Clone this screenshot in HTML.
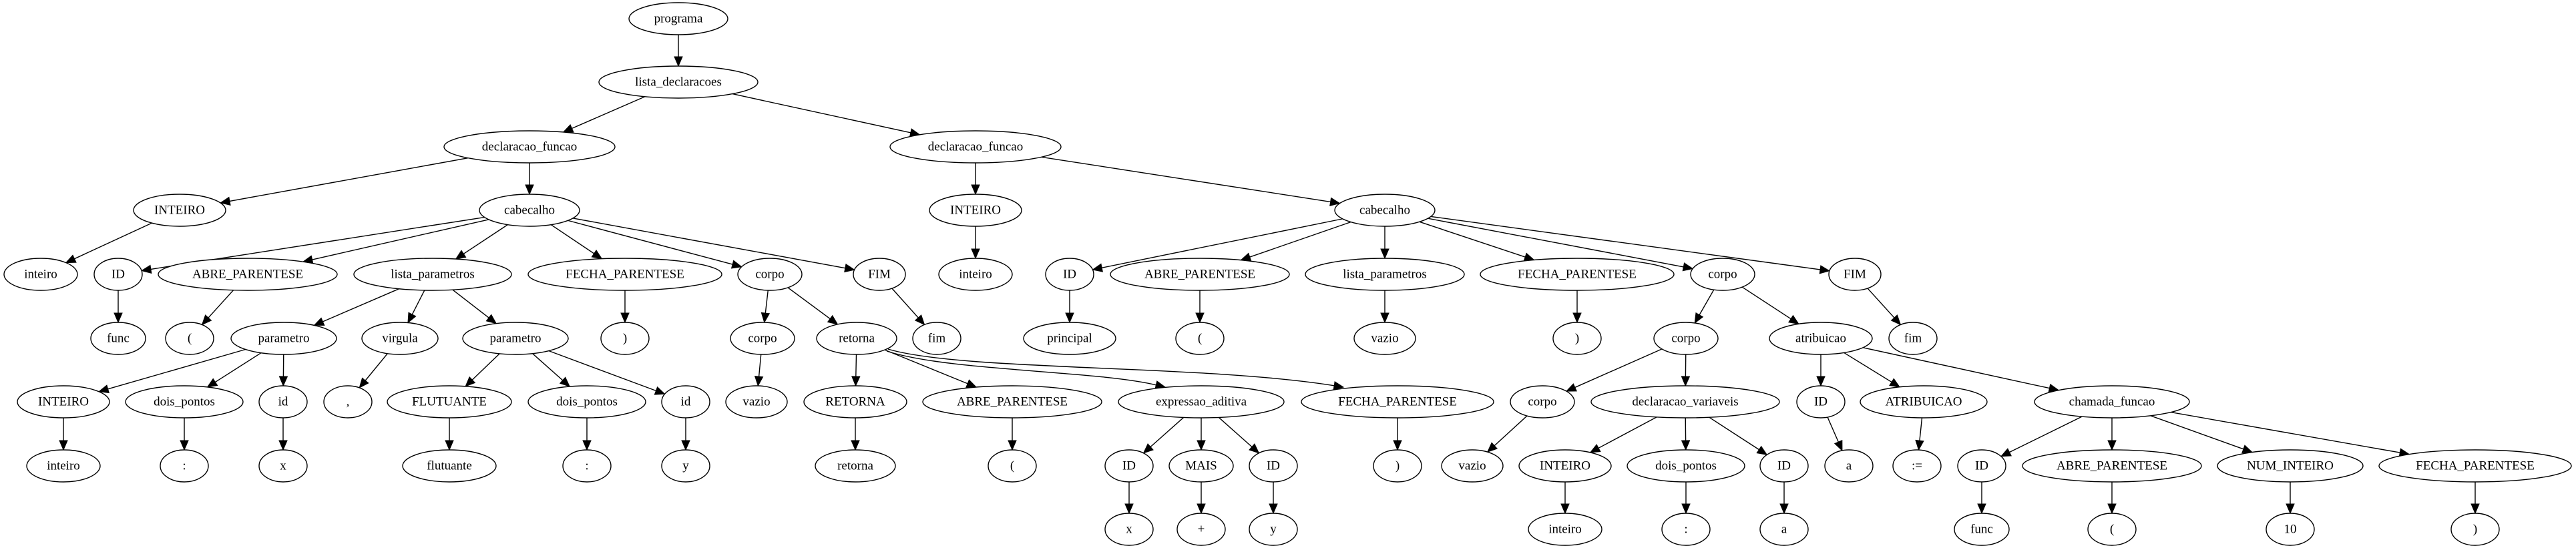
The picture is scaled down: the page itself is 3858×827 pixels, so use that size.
<!DOCTYPE html>
<html><head><meta charset="utf-8"><style>
html,body{margin:0;padding:0;background:#fff;}
svg{display:block;}
text{font-family:"Liberation Serif",serif;font-size:19px;text-anchor:middle;dominant-baseline:central;fill:#000;}
ellipse{fill:#fff;stroke:#000;stroke-width:1.4;}
</style></head><body>
<svg id="s" width="3858" height="827" viewBox="0 0 3858 827" xmlns="http://www.w3.org/2000/svg">
<g id="edges"></g>
<g id="nodes">
<g id="n0"><ellipse cx="1016" cy="28" rx="74" ry="24"/><text x="1016" y="28">programa</text></g>
<g id="n1"><ellipse cx="1016" cy="123" rx="119" ry="24"/><text x="1016" y="123">lista_declaracoes</text></g>
<g id="n2"><ellipse cx="793" cy="220" rx="128" ry="24"/><text x="793" y="220">declaracao_funcao</text></g>
<g id="n3"><ellipse cx="1461" cy="220" rx="128" ry="24"/><text x="1461" y="220">declaracao_funcao</text></g>
<g id="n4"><ellipse cx="269" cy="315" rx="69" ry="24"/><text x="269" y="315">INTEIRO</text></g>
<g id="n5"><ellipse cx="793" cy="315" rx="75" ry="24"/><text x="793" y="315">cabecalho</text></g>
<g id="n6"><ellipse cx="1461" cy="315" rx="69" ry="24"/><text x="1461" y="315">INTEIRO</text></g>
<g id="n7"><ellipse cx="2074" cy="315" rx="75" ry="24"/><text x="2074" y="315">cabecalho</text></g>
<g id="n8"><ellipse cx="61" cy="411" rx="55" ry="24"/><text x="61" y="411">inteiro</text></g>
<g id="n9"><ellipse cx="177" cy="411" rx="36" ry="24"/><text x="177" y="411">ID</text></g>
<g id="n10"><ellipse cx="371" cy="411" rx="134" ry="24"/><text x="371" y="411">ABRE_PARENTESE</text></g>
<g id="n11"><ellipse cx="648" cy="411" rx="118" ry="24"/><text x="648" y="411">lista_parametros</text></g>
<g id="n12"><ellipse cx="936" cy="411" rx="145" ry="24"/><text x="936" y="411">FECHA_PARENTESE</text></g>
<g id="n13"><ellipse cx="1153" cy="411" rx="48" ry="24"/><text x="1153" y="411">corpo</text></g>
<g id="n14"><ellipse cx="1317" cy="411" rx="39" ry="24"/><text x="1317" y="411">FIM</text></g>
<g id="n15"><ellipse cx="1461" cy="411" rx="55" ry="24"/><text x="1461" y="411">inteiro</text></g>
<g id="n16"><ellipse cx="1602" cy="411" rx="36" ry="24"/><text x="1602" y="411">ID</text></g>
<g id="n17"><ellipse cx="1797" cy="411" rx="134" ry="24"/><text x="1797" y="411">ABRE_PARENTESE</text></g>
<g id="n18"><ellipse cx="2074" cy="411" rx="119" ry="24"/><text x="2074" y="411">lista_parametros</text></g>
<g id="n19"><ellipse cx="2362" cy="411" rx="145" ry="24"/><text x="2362" y="411">FECHA_PARENTESE</text></g>
<g id="n20"><ellipse cx="2580" cy="411" rx="48" ry="24"/><text x="2580" y="411">corpo</text></g>
<g id="n21"><ellipse cx="2778" cy="411" rx="39" ry="24"/><text x="2778" y="411">FIM</text></g>
<g id="n22"><ellipse cx="177" cy="507" rx="41" ry="24"/><text x="177" y="507">func</text></g>
<g id="n23"><ellipse cx="284" cy="507" rx="36" ry="24"/><text x="284" y="507">(</text></g>
<g id="n24"><ellipse cx="425" cy="507" rx="79" ry="24"/><text x="425" y="507">parametro</text></g>
<g id="n25"><ellipse cx="599" cy="507" rx="57" ry="24"/><text x="599" y="507">virgula</text></g>
<g id="n26"><ellipse cx="772" cy="507" rx="79" ry="24"/><text x="772" y="507">parametro</text></g>
<g id="n27"><ellipse cx="936" cy="507" rx="36" ry="24"/><text x="936" y="507">)</text></g>
<g id="n28"><ellipse cx="1142" cy="507" rx="48" ry="24"/><text x="1142" y="507">corpo</text></g>
<g id="n29"><ellipse cx="1283" cy="507" rx="60" ry="24"/><text x="1283" y="507">retorna</text></g>
<g id="n30"><ellipse cx="1403" cy="507" rx="36" ry="24"/><text x="1403" y="507">fim</text></g>
<g id="n31"><ellipse cx="1602" cy="507" rx="69" ry="24"/><text x="1602" y="507">principal</text></g>
<g id="n32"><ellipse cx="1797" cy="507" rx="36" ry="24"/><text x="1797" y="507">(</text></g>
<g id="n33"><ellipse cx="2074" cy="507" rx="46" ry="24"/><text x="2074" y="507">vazio</text></g>
<g id="n34"><ellipse cx="2362" cy="507" rx="36" ry="24"/><text x="2362" y="507">)</text></g>
<g id="n35"><ellipse cx="2525" cy="507" rx="48" ry="24"/><text x="2525" y="507">corpo</text></g>
<g id="n36"><ellipse cx="2727" cy="507" rx="77" ry="24"/><text x="2727" y="507">atribuicao</text></g>
<g id="n37"><ellipse cx="2865" cy="507" rx="36" ry="24"/><text x="2865" y="507">fim</text></g>
<g id="n38"><ellipse cx="95" cy="602" rx="69" ry="24"/><text x="95" y="602">INTEIRO</text></g>
<g id="n39"><ellipse cx="276" cy="602" rx="88" ry="24"/><text x="276" y="602">dois_pontos</text></g>
<g id="n40"><ellipse cx="424" cy="602" rx="36" ry="24"/><text x="424" y="602">id</text></g>
<g id="n41"><ellipse cx="521" cy="602" rx="36" ry="24"/><text x="521" y="602">,</text></g>
<g id="n42"><ellipse cx="673" cy="602" rx="93" ry="24"/><text x="673" y="602">FLUTUANTE</text></g>
<g id="n43"><ellipse cx="879" cy="602" rx="88" ry="24"/><text x="879" y="602">dois_pontos</text></g>
<g id="n44"><ellipse cx="1027" cy="602" rx="36" ry="24"/><text x="1027" y="602">id</text></g>
<g id="n45"><ellipse cx="1133" cy="602" rx="46" ry="24"/><text x="1133" y="602">vazio</text></g>
<g id="n46"><ellipse cx="1281" cy="602" rx="77" ry="24"/><text x="1281" y="602">RETORNA</text></g>
<g id="n47"><ellipse cx="1516" cy="602" rx="134" ry="24"/><text x="1516" y="602">ABRE_PARENTESE</text></g>
<g id="n48"><ellipse cx="1799" cy="602" rx="124" ry="24"/><text x="1799" y="602">expressao_aditiva</text></g>
<g id="n49"><ellipse cx="2093" cy="602" rx="144" ry="24"/><text x="2093" y="602">FECHA_PARENTESE</text></g>
<g id="n50"><ellipse cx="2310" cy="602" rx="48" ry="24"/><text x="2310" y="602">corpo</text></g>
<g id="n51"><ellipse cx="2524" cy="602" rx="141" ry="24"/><text x="2524" y="602">declaracao_variaveis</text></g>
<g id="n52"><ellipse cx="2727" cy="602" rx="36" ry="24"/><text x="2727" y="602">ID</text></g>
<g id="n53"><ellipse cx="2881" cy="602" rx="95" ry="24"/><text x="2881" y="602">ATRIBUICAO</text></g>
<g id="n54"><ellipse cx="3163" cy="602" rx="116" ry="24"/><text x="3163" y="602">chamada_funcao</text></g>
<g id="n55"><ellipse cx="95" cy="698" rx="55" ry="24"/><text x="95" y="698">inteiro</text></g>
<g id="n56"><ellipse cx="276" cy="698" rx="36" ry="24"/><text x="276" y="698">:</text></g>
<g id="n57"><ellipse cx="424" cy="698" rx="36" ry="24"/><text x="424" y="698">x</text></g>
<g id="n58"><ellipse cx="673" cy="698" rx="70" ry="24"/><text x="673" y="698">flutuante</text></g>
<g id="n59"><ellipse cx="879" cy="698" rx="36" ry="24"/><text x="879" y="698">:</text></g>
<g id="n60"><ellipse cx="1027" cy="698" rx="36" ry="24"/><text x="1027" y="698">y</text></g>
<g id="n61"><ellipse cx="1281" cy="698" rx="60" ry="24"/><text x="1281" y="698">retorna</text></g>
<g id="n62"><ellipse cx="1516" cy="698" rx="36" ry="24"/><text x="1516" y="698">(</text></g>
<g id="n63"><ellipse cx="1691" cy="698" rx="36" ry="24"/><text x="1691" y="698">ID</text></g>
<g id="n64"><ellipse cx="1799" cy="698" rx="48" ry="24"/><text x="1799" y="698">MAIS</text></g>
<g id="n65"><ellipse cx="1907" cy="698" rx="36" ry="24"/><text x="1907" y="698">ID</text></g>
<g id="n66"><ellipse cx="2093" cy="698" rx="36" ry="24"/><text x="2093" y="698">)</text></g>
<g id="n67"><ellipse cx="2205" cy="698" rx="46" ry="24"/><text x="2205" y="698">vazio</text></g>
<g id="n68"><ellipse cx="2344" cy="698" rx="69" ry="24"/><text x="2344" y="698">INTEIRO</text></g>
<g id="n69"><ellipse cx="2525" cy="698" rx="88" ry="24"/><text x="2525" y="698">dois_pontos</text></g>
<g id="n70"><ellipse cx="2672" cy="698" rx="36" ry="24"/><text x="2672" y="698">ID</text></g>
<g id="n71"><ellipse cx="2769" cy="698" rx="36" ry="24"/><text x="2769" y="698">a</text></g>
<g id="n72"><ellipse cx="2871" cy="698" rx="36" ry="24"/><text x="2871" y="698">:=</text></g>
<g id="n73"><ellipse cx="2968" cy="698" rx="36" ry="24"/><text x="2968" y="698">ID</text></g>
<g id="n74"><ellipse cx="3163" cy="698" rx="134" ry="24"/><text x="3163" y="698">ABRE_PARENTESE</text></g>
<g id="n75"><ellipse cx="3430" cy="698" rx="109" ry="24"/><text x="3430" y="698">NUM_INTEIRO</text></g>
<g id="n76"><ellipse cx="3707" cy="698" rx="144" ry="24"/><text x="3707" y="698">FECHA_PARENTESE</text></g>
<g id="n77"><ellipse cx="1691" cy="793" rx="36" ry="24"/><text x="1691" y="793">x</text></g>
<g id="n78"><ellipse cx="1799" cy="793" rx="36" ry="24"/><text x="1799" y="793">+</text></g>
<g id="n79"><ellipse cx="1907" cy="793" rx="36" ry="24"/><text x="1907" y="793">y</text></g>
<g id="n80"><ellipse cx="2344" cy="793" rx="55" ry="24"/><text x="2344" y="793">inteiro</text></g>
<g id="n81"><ellipse cx="2525" cy="793" rx="36" ry="24"/><text x="2525" y="793">:</text></g>
<g id="n82"><ellipse cx="2672" cy="793" rx="36" ry="24"/><text x="2672" y="793">a</text></g>
<g id="n83"><ellipse cx="2968" cy="793" rx="41" ry="24"/><text x="2968" y="793">func</text></g>
<g id="n84"><ellipse cx="3163" cy="793" rx="36" ry="24"/><text x="3163" y="793">(</text></g>
<g id="n85"><ellipse cx="3430" cy="793" rx="36" ry="24"/><text x="3430" y="793">10</text></g>
<g id="n86"><ellipse cx="3707" cy="793" rx="36" ry="24"/><text x="3707" y="793">)</text></g>
</g>
</svg>
<script>
var E=[[0,1],[1,2],[1,3],[2,4],[2,5],[3,6],[3,7],[4,8],[5,9],[5,10],[5,11],[5,12],[5,13],[5,14],[6,15],[7,16],[7,17],[7,18],[7,19],[7,20],[7,21],
[9,22],[10,23],[11,24],[11,25],[11,26],[12,27],[13,28],[13,29],[14,30],[16,31],[17,32],[18,33],[19,34],[20,35],[20,36],[21,37],
[24,38],[24,39],[24,40],[25,41],[26,42],[26,43],[26,44],[28,45],[29,46],[29,47],[35,50],[35,51],[36,52],[36,53],[36,54],
[38,55],[39,56],[40,57],[42,58],[43,59],[44,60],[46,61],[47,62],[48,63],[48,64],[48,65],[49,66],[50,67],[51,68],[51,69],[51,70],[52,71],[53,72],[54,73],[54,74],[54,75],[54,76],
[63,77],[64,78],[65,79],[68,80],[69,81],[70,82],[73,83],[74,84],[75,85],[76,86]];
function g(i){var e=document.querySelector('#n'+i+' ellipse');return {x:+e.getAttribute('cx'),y:+e.getAttribute('cy'),rx:+e.getAttribute('rx'),ry:+e.getAttribute('ry')};}
function edgePt(n,dx,dy){var t=1/Math.sqrt((dx*dx)/(n.rx*n.rx)+(dy*dy)/(n.ry*n.ry));return [n.x+dx*t,n.y+dy*t];}
var G=document.getElementById('edges'),h='';
function head(t,ux,uy){var al=14,aw=6,bx=t[0]-ux*al,by=t[1]-uy*al;
h+='<polygon points="'+t[0]+','+t[1]+' '+(bx-uy*aw)+','+(by+ux*aw)+' '+(bx+uy*aw)+','+(by-ux*aw)+'" fill="#000" stroke="#000"/>';return [bx,by];}
E.forEach(function(p){var a=g(p[0]),b=g(p[1]);var dx=b.x-a.x,dy=b.y-a.y;var s=edgePt(a,dx,dy),t=edgePt(b,-dx,-dy);
var L=Math.hypot(t[0]-s[0],t[1]-s[1]),ux=(t[0]-s[0])/L,uy=(t[1]-s[1])/L;
var q=head(t,ux,uy);
h+='<line x1="'+s[0]+'" y1="'+s[1]+'" x2="'+q[0]+'" y2="'+q[1]+'" stroke="#000" stroke-width="1.4"/>';});
function curve(s,c1,c2,t){var dx=t[0]-c2[0],dy=t[1]-c2[1],L=Math.hypot(dx,dy),ux=dx/L,uy=dy/L;var q=head(t,ux,uy);
h+='<path d="M'+s+' C'+c1+' '+c2+' '+q+'" fill="none" stroke="#000" stroke-width="1.4"/>';}
curve([1328,526],[1420,556],[1640,555],[1745,580]);
curve([1330,523],[1440,556],[1800,546],[2012,580]);
G.innerHTML=h;
</script>
</body></html>
